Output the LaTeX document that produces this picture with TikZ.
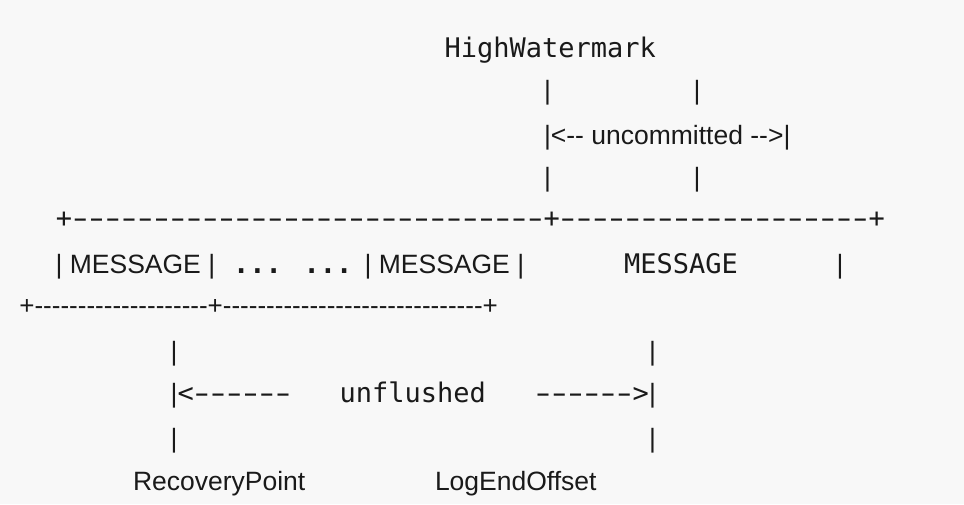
\documentclass[tikz,border=0pt]{standalone}
\usepackage{graphicx}
\usepackage{fontspec}
\newfontfamily\arfont{Liberation Sans}
\newfontfamily\mofont{DejaVu Sans Mono}
\ExplSyntaxOn
\cs_new:Npn \reprun #1#2 { \prg_replicate:nn {#1} {#2} }
\ExplSyntaxOff
\newcommand\hy{-\kern0pt}
\newcommand\mhy{\makebox[0.602em]{\scalebox{1.6}[1]{-}}}
\definecolor{bgc}{HTML}{F8F8F8}
\definecolor{ink}{HTML}{1A1A1A}
\tikzset{
  asc/.style={anchor=base west, inner sep=0pt, outer sep=0pt, text=ink,
    font=\arfont\fontsize{26.5}{30}\selectfont},
  msc/.style={anchor=base west, inner sep=0pt, outer sep=0pt, text=ink,
    font=\mofont\fontsize{27}{30}\selectfont},
  pipe/.style={asc, anchor=base},
}
\begin{document}
\begin{tikzpicture}[x=1pt,y=-1pt]
\fill[bgc] (0,0) rectangle (964,504);
\useasboundingbox (0,0) rectangle (964,504);
% HighWatermark block
\node[msc] (hw) at (444.5,57) {HighWatermark};
\node[pipe] (p1) at (547.5,99.4) {|};
\node[pipe] (p2) at (697,99.4) {|};
\node[asc] (unc) at (544,144.4) {|<\hy\hy\ uncommitted \hy\hy>|};
\node[pipe] (p3) at (547.5,186.4) {|};
\node[pipe] (p4) at (697,186.4) {|};
% top border
\node[msc] (topline) at (55.9,227.6) {+\reprun{29}{\mhy}+\reprun{19}{\mhy}+};
% message row
\node[asc] (m1) at (55.6,273.4) {| MESSAGE |};
\node[msc] (dots) at (233.2,273.4) {\bfseries ... ...};
\node[asc] (m2) at (364.6,273.4) {| MESSAGE |};
\node[msc] (m3) at (624,273.4) {MESSAGE};
\node[pipe] (p5) at (840,273.4) {|};
% bottom border
\node[asc, font=\arfont\fontsize{26}{30}\selectfont] (botline) at (19.4,314) {+\reprun{20}{\hy}+\reprun{30}{\hy}+};
% unflushed block
\node[pipe] (p6) at (174,360.4) {|};
\node[pipe] (p7) at (652.5,360.4) {|};
\node[pipe] (p8) at (174,402.4) {|};
\node[msc] (la) at (177.5,402.4) {<\reprun{6}{\mhy}};
\node[msc] (unf) at (339.5,402.4) {unflushed};
\node[msc] (ra) at (535,402.4) {\reprun{6}{\mhy}>};
\node[pipe] (p9) at (652.5,402.4) {|};
\node[pipe] (p10) at (174,447.4) {|};
\node[pipe] (p11) at (652.5,447.4) {|};
\node[asc] (rp) at (133,490) {RecoveryPoint};
\node[asc] (leo) at (435,490) {LogEndOffset};
\end{tikzpicture}
\end{document}
